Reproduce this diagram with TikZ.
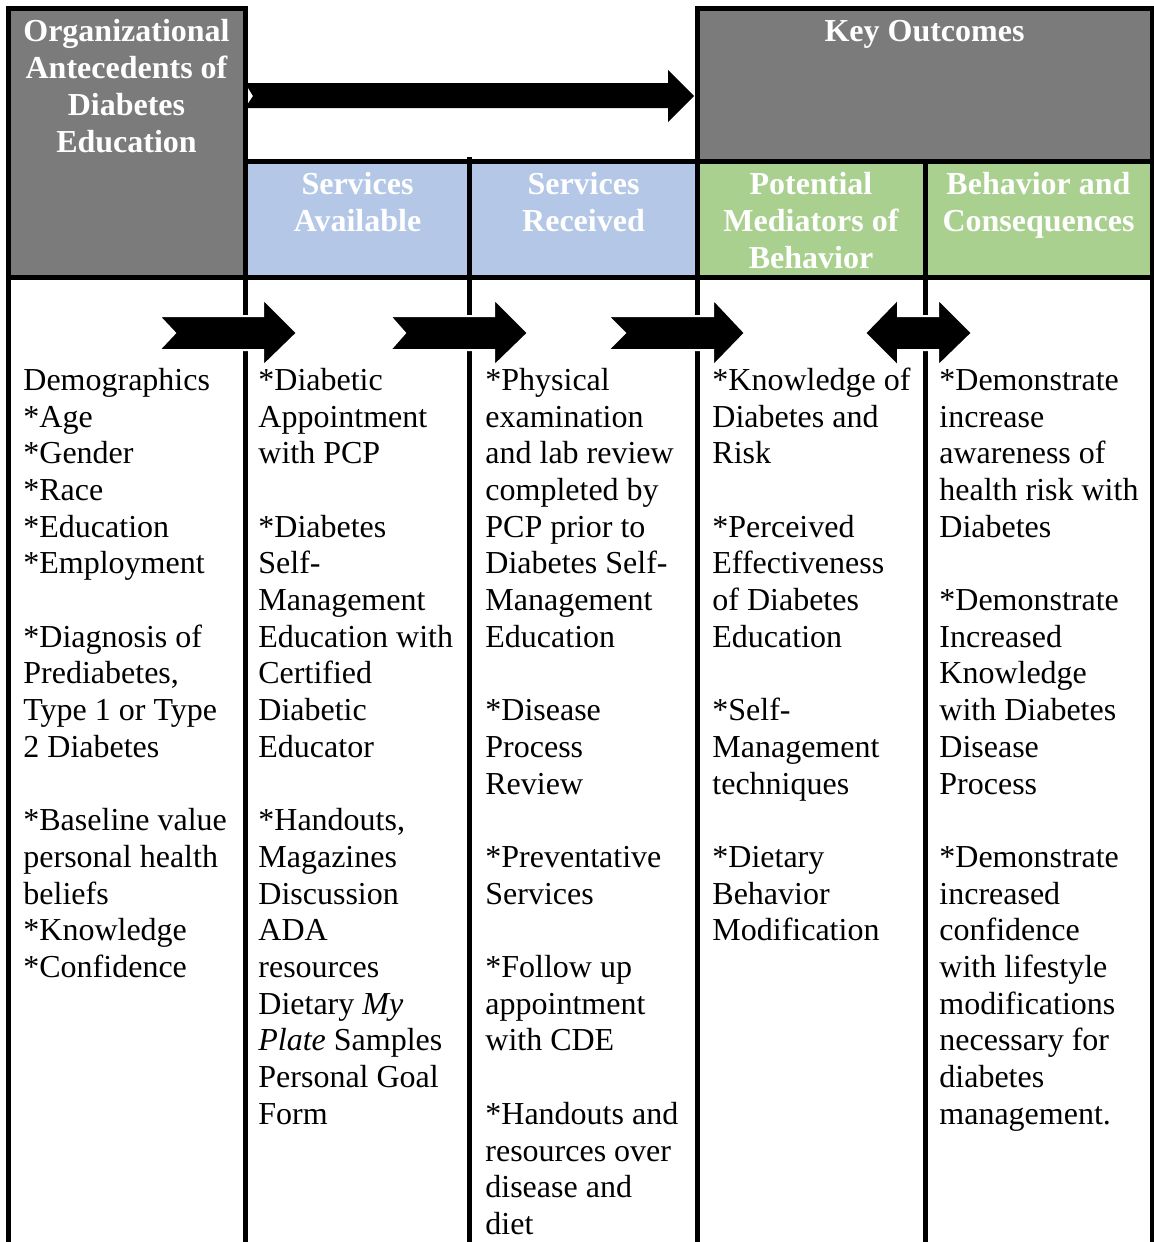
\documentclass[tikz,border=0pt]{standalone}
\usepackage{fontspec}
\setmainfont{Liberation Serif}
\definecolor{hdrgray}{HTML}{7B7B7B}
\definecolor{hdrblue}{HTML}{B4C7E7}
\definecolor{hdrgreen}{HTML}{A9D08E}
\newcommand{\cellfont}{\fontsize{16}{18.35}\selectfont}
\newcommand{\headfont}{\fontsize{16}{18.5}\selectfont\bfseries}

\begin{document}
\begin{tikzpicture}[x=0.5pt,y=-0.5pt,
    rule/.style={line width=2.5pt},
    head/.style={anchor=north,align=flush center,inner sep=0pt,text width=116pt,text=white,font=\headfont,execute at begin node=\strut},
    cell/.style={anchor=north west,align=flush left,inner sep=0pt,text width=118pt,font=\cellfont,execute at begin node=\strut},
    blockarrow/.style={fill=black,draw=white,line width=1pt}]
\useasboundingbox[fill=white] (0,0) rectangle (1154,1242);

% header fills
\fill[hdrgray] (8,8) rectangle (245,277);
\fill[hdrgray] (697,8) rectangle (1152,161);
\fill[hdrblue] (245,161) rectangle (697,277);
\fill[hdrgreen] (697,161) rectangle (1152,277);

% long arrow across the top
\fill[black] (245,83) -- (668,83) -- (668,70) -- (694,96) -- (668,122) -- (668,108) -- (245,108) -- (253,96) -- cycle;

% table rules
\draw[rule] (8,1242) -- (8,8) -- (245,8) -- (245,1242);
\draw[rule] (697,1242) -- (697,8) -- (1152,8) -- (1152,1242);
\draw[rule] (245,161) -- (1152,161);
\draw[rule] (5.5,277) -- (1154,277);
\draw[rule] (469.5,157) -- (469.5,1242);
\draw[rule] (925,161) -- (925,1242);

% headings
\node[head] (antec) at (126.5,15) {Organizational\\Antecedents of\\Diabetes\\Education};
\node[head] (keyout) at (924.5,15) {Key Outcomes};
\node[head] (servavail) at (357.5,168) {Services\\Available};
\node[head] (servrecv) at (583.5,168) {Services\\Received};
\node[head] (mediators) at (811,168) {Potential\\Mediators of\\Behavior};
\node[head] (behavior) at (1038.5,168) {Behavior and\\Consequences};

% arrows between the columns
\draw[blockarrow] (159,316) -- (263,316) -- (263,299) -- (297,333) -- (263,366) -- (263,350) -- (159,350) -- (175,333) -- cycle;
\draw[blockarrow] (390,316) -- (494,316) -- (494,299) -- (528,333) -- (494,366) -- (494,350) -- (390,350) -- (405,333) -- cycle;
\draw[blockarrow] (608,316) -- (713,316) -- (713,299) -- (745,333) -- (713,366) -- (713,350) -- (608,350) -- (625,333) -- cycle;
\draw[blockarrow] (865,333) -- (898,299) -- (898,316) -- (938,316) -- (938,299) -- (972,333) -- (938,366) -- (938,350) -- (898,350) -- (898,366) -- cycle;

% column contents
\node[cell] (demog) at (23,364.3) {Demographics\\{}*Age\\{}*Gender\\{}*Race\\{}*Education\\{}*Employment\\ \strut\\{}*Diagnosis of\\Prediabetes,\\Type 1 or Type\\2 Diabetes\\ \strut\\{}*Baseline value\\personal health\\beliefs\\{}*Knowledge\\{}*Confidence};
\node[cell] (avail) at (258,364.3) {*Diabetic\\Appointment\\with PCP\\ \strut\\{}*Diabetes\\Self-\\Management\\Education with\\Certified\\Diabetic\\Educator\\ \strut\\{}*Handouts,\\Magazines\\Discussion\\ADA\\resources\\Dietary \textit{My}\\\textit{Plate} Samples\\Personal Goal\\Form};
\node[cell] (recv) at (485,364.3) {*Physical\\examination\\and lab review\\completed by\\PCP prior to\\Diabetes Self-\\Management\\Education\\ \strut\\{}*Disease\\Process\\Review\\ \strut\\{}*Preventative\\Services\\ \strut\\{}*Follow up\\appointment\\with CDE\\ \strut\\{}*Handouts and\\resources over\\disease and\\diet};
\node[cell] (medlist) at (712,364.3) {*Knowledge of\\Diabetes and\\Risk\\ \strut\\{}*Perceived\\Effectiveness\\of Diabetes\\Education\\ \strut\\{}*Self-\\Management\\techniques\\ \strut\\{}*Dietary\\Behavior\\Modification};
\node[cell] (conseq) at (939,364.3) {*Demonstrate\\increase\\awareness of\\health risk with\\Diabetes\\ \strut\\{}*Demonstrate\\Increased\\Knowledge\\with Diabetes\\Disease\\Process\\ \strut\\{}*Demonstrate\\increased\\confidence\\with lifestyle\\modifications\\necessary for\\diabetes\\management.};
\end{tikzpicture}
\end{document}
